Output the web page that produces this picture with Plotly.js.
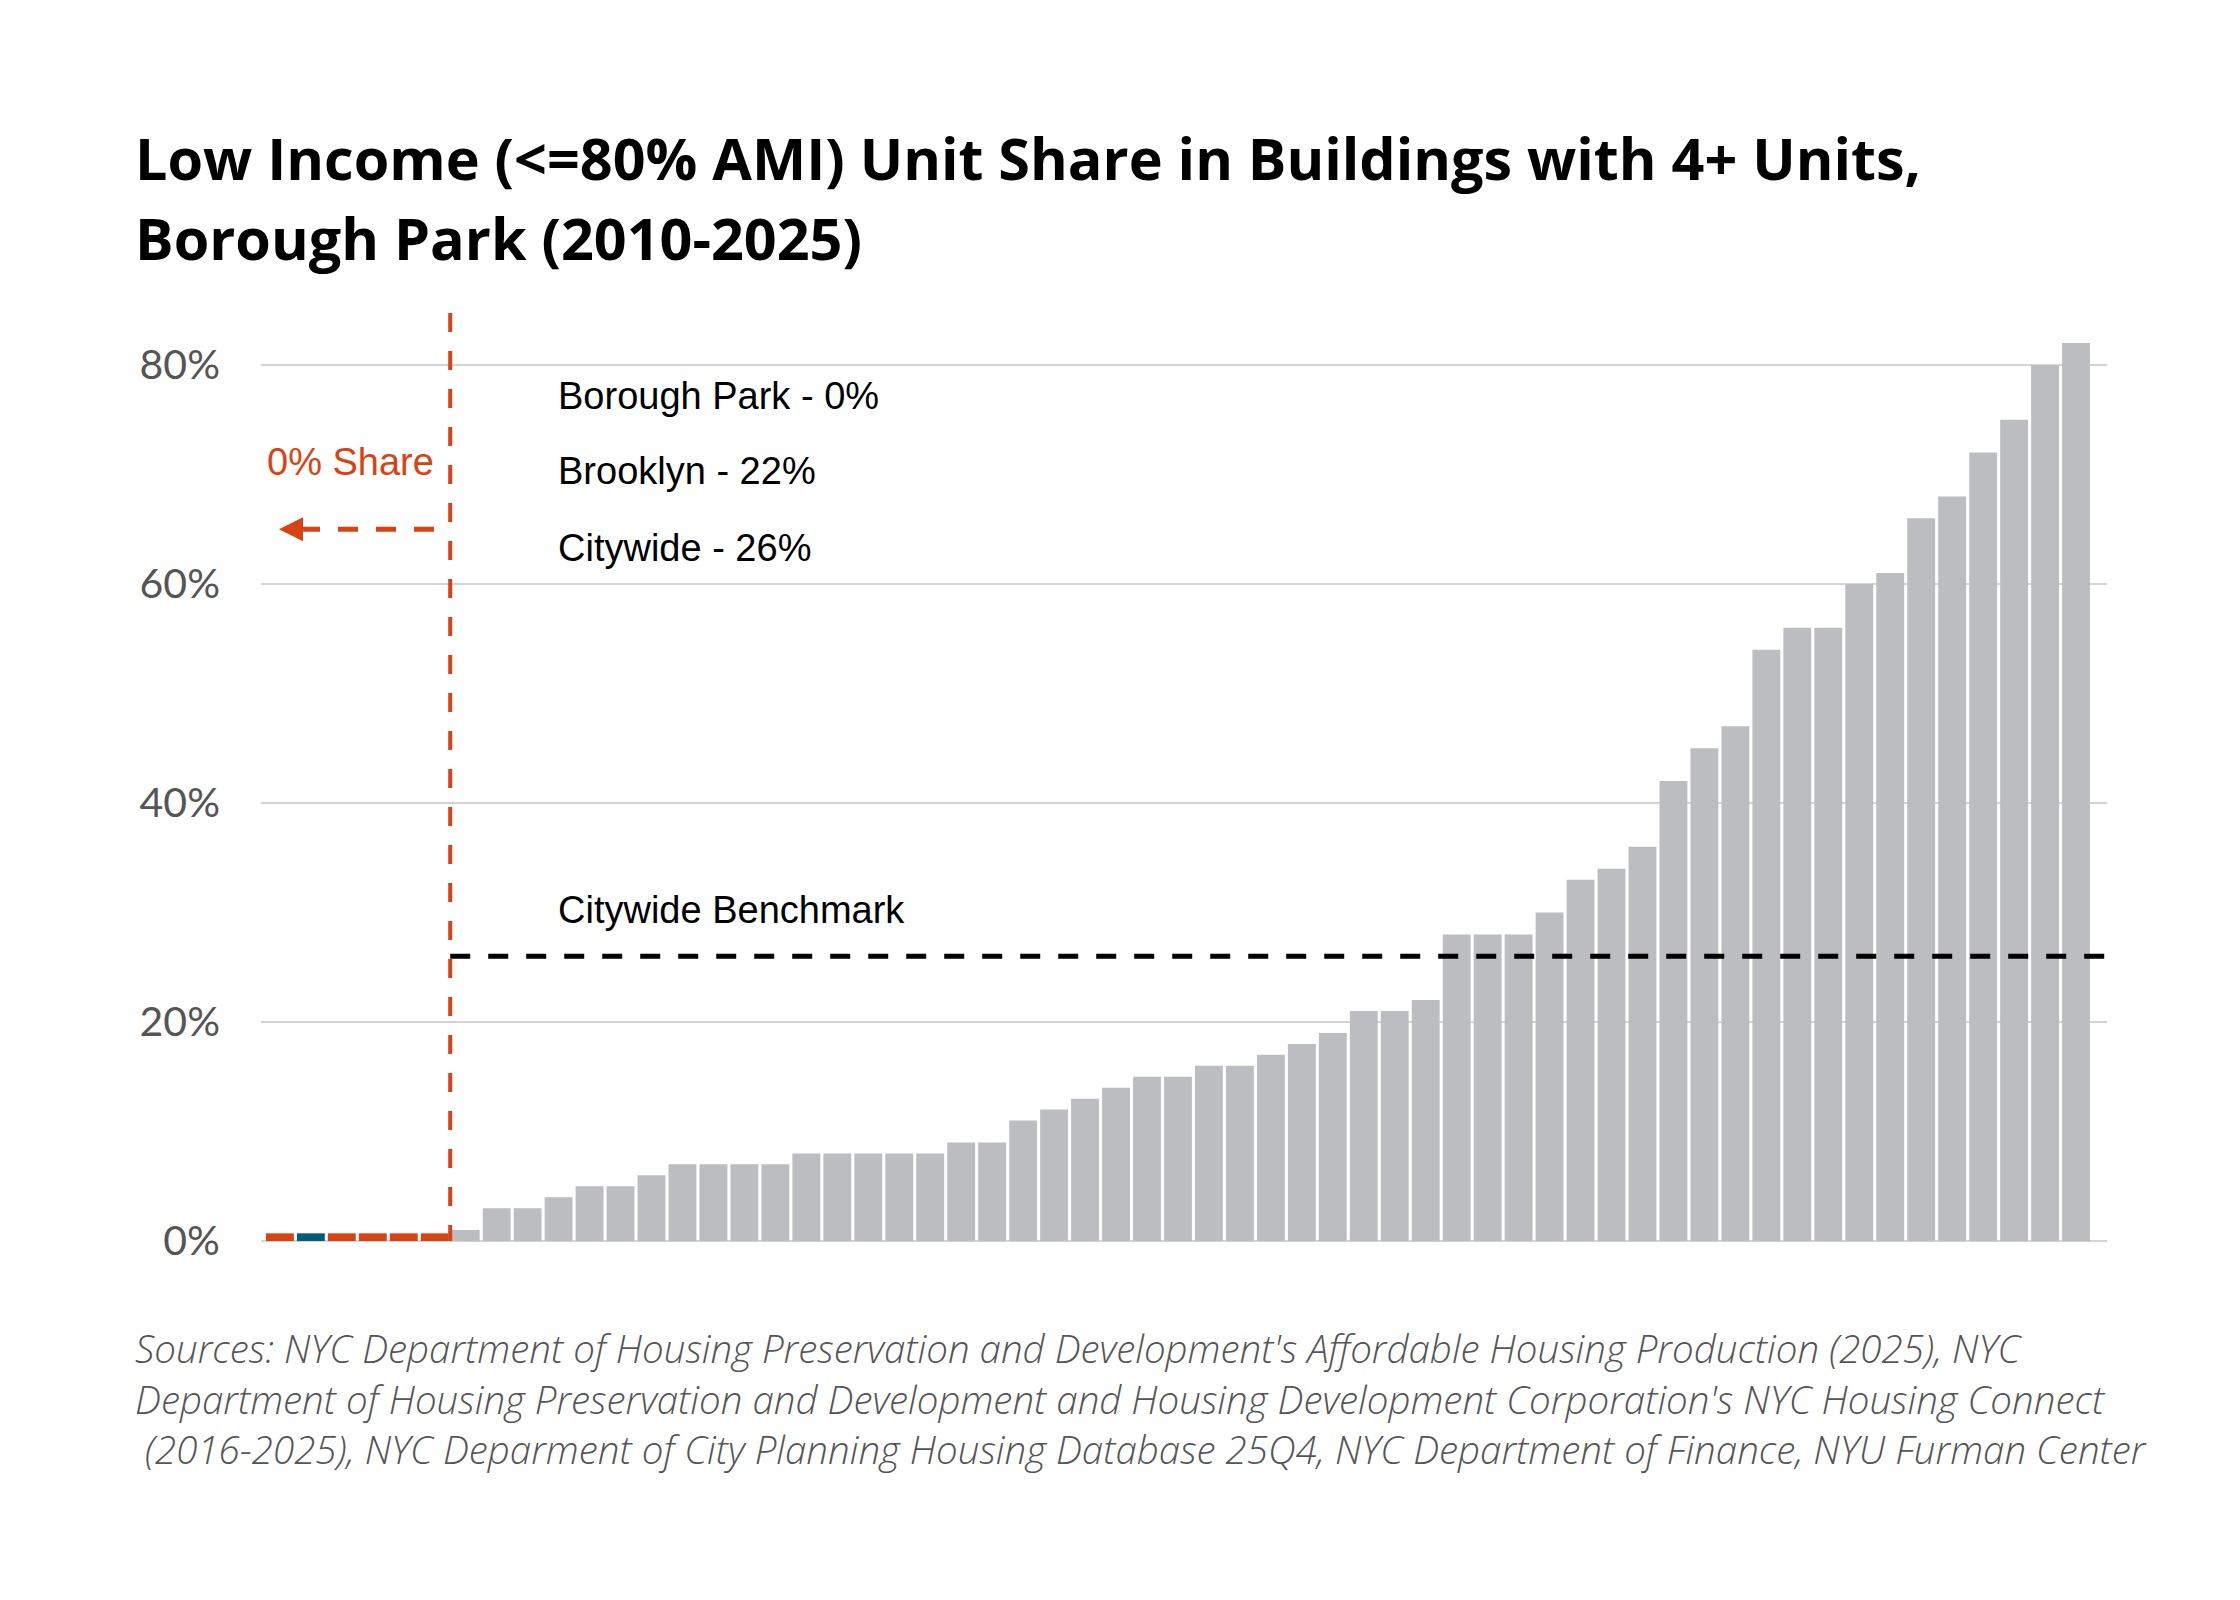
<!DOCTYPE html>
<html>
<head>
<meta charset="utf-8">
<script src="https://cdn.plot.ly/plotly-3.0.1.min.js"></script>
<style>
  html, body { margin: 0; padding: 0; background: #fff; }
  #chart { width: 2240px; height: 1600px; }
</style>
</head>
<body>
<div id="chart"></div>
<script>
// ---- Data ----
const shares = [0, 0, 0, 0, 0, 0,
  1, 3, 3, 4, 5, 5, 6, 7, 7, 7, 7, 8, 8, 8, 8, 8, 9, 9, 11, 12, 13, 14, 15, 15,
  16, 16, 17, 18, 19, 21, 21, 22, 28, 28, 28, 30, 33, 34, 36, 42, 45, 47, 54, 56,
  56, 60, 61, 66, 68, 72, 75, 80, 82];
const highlightIndex = 1;          // Borough Park
const citywideBenchmark = 26;
const arrowLevel = 65;
const yTickValues = [0, 20, 40, 60, 80];
const yTickLabels = ["0%", "20%", "40%", "60%", "80%"];
const titleLines = [
  "Low Income (<=80% AMI) Unit Share in Buildings with 4+ Units,",
  "Borough Park (2010-2025)"
];
const statLabels = ["Borough Park - 0%", "Brooklyn - 22%", "Citywide - 26%"];
const statLevels = [77.2, 70.3, 63.3];
const benchmarkLabel = "Citywide Benchmark";
const zeroShareLabel = "0% Share";
const sourceLines = [
  "Sources: NYC Department of Housing Preservation and Development's Affordable Housing Production (2025), NYC",
  "Department of Housing Preservation and Development and Housing Development Corporation's NYC Housing Connect",
  " (2016-2025), NYC Deparment of City Planning Housing Database 25Q4, NYC Department of Finance, NYU Furman Center"
];

// ---- Styling ----
const ORANGE = '#d94313';
const BLUE = '#015b7a';
const GRAY = '#bcbdc1';
const ZERO_STUB = 0.7;   // visual stub so zero-share bars stay visible

const W = 2240, H = 1600;
const plotL = 261, plotR = 2107, plotT = 313, plotB = 1241;
const py = p => (plotB - p) / (plotB - plotT);
const px = p => (p - plotL) / (plotR - plotL);

const idx = shares.map((_, i) => i);
const zeroCount = shares.filter(v => v === 0).length;
const dividerX = zeroCount - 0.5;

const colors = shares.map((v, i) => i === highlightIndex ? BLUE : (v === 0 ? ORANGE : GRAY));
const heights = shares.map(v => v === 0 ? ZERO_STUB : v);

const traces = [{
  type: 'bar',
  x: idx,
  y: heights,
  marker: { color: colors, line: { width: 0 } },
  hoverinfo: 'skip'
}];

const annotations = [];
titleLines.forEach((t, i) => {
  annotations.push({
    xref: 'paper', yref: 'paper', x: px(133), y: py(i === 0 ? 158 : 238),
    xanchor: 'left', yanchor: 'middle', showarrow: false, text: '<b>' + t + '</b>',
    font: { family: 'Open Sans', size: 57.5, color: '#000' }
  });
});
statLabels.forEach((t, i) => {
  annotations.push({
    xref: 'paper', yref: 'y', x: px(556), y: statLevels[i],
    xanchor: 'left', yanchor: 'middle', showarrow: false, text: t,
    font: { family: 'Liberation Sans', size: 38, color: '#000' }
  });
});
annotations.push({
  xref: 'paper', yref: 'y', x: px(556), y: 30.2,
  xanchor: 'left', yanchor: 'middle', showarrow: false, text: benchmarkLabel,
  font: { family: 'Liberation Sans', size: 38, color: '#000' }
});
annotations.push({
  xref: 'paper', yref: 'y', x: px(436), y: 71.1,
  xanchor: 'right', yanchor: 'middle', showarrow: false, text: zeroShareLabel,
  font: { family: 'Liberation Sans', size: 38, color: ORANGE }
});
// arrow head
annotations.push({
  xref: 'paper', yref: 'y', x: px(279), y: arrowLevel,
  ax: 24, ay: 0, showarrow: true, arrowhead: 2, arrowsize: 0.8, arrowwidth: 6,
  arrowcolor: ORANGE, text: ''
});
sourceLines.forEach((t, i) => {
  annotations.push({
    xref: 'paper', yref: 'paper', x: px(133), y: py([1348, 1399, 1449][i]),
    xanchor: 'left', yanchor: 'middle', showarrow: false, text: t,
    font: { family: 'Open Sans', size: 38.5, color: '#555', style: 'italic', weight: 300 }
  });
});

const shapes = [
  // vertical orange divider
  { type: 'line', xref: 'x', yref: 'paper', x0: dividerX, x1: dividerX, y0: 1, y1: 0,
    line: { color: ORANGE, width: 4, dash: '19px,19px' }, layer: 'above' },
  // citywide benchmark
  { type: 'line', xref: 'x', yref: 'y', x0: dividerX, x1: 59.0, y0: citywideBenchmark, y1: citywideBenchmark,
    line: { color: '#000', width: 5, dash: '20px,18px' }, layer: 'above' },
  // arrow dashes
  { type: 'line', xref: 'paper', yref: 'y', x0: px(434), x1: px(300), y0: arrowLevel, y1: arrowLevel,
    line: { color: ORANGE, width: 5, dash: '20px,18px' }, layer: 'above' }
];

const layout = {
  width: W, height: H,
  margin: { l: plotL, r: W - plotR, t: plotT, b: H - plotB, pad: 0 },
  paper_bgcolor: '#fff', plot_bgcolor: '#fff',
  showlegend: false,
  bargap: 0.1,
  xaxis: { range: [-0.61, 59.0], showgrid: false, zeroline: false, showticklabels: false, ticks: '', fixedrange: true },
  yaxis: {
    range: [0, 84.75], tickmode: 'array', tickvals: yTickValues, ticktext: yTickLabels,
    showgrid: true, gridcolor: '#d4d4d4', gridwidth: 2,
    zeroline: true, zerolinecolor: '#d4d4d4', zerolinewidth: 2,
    ticks: '', ticklabelstandoff: 40,
    tickfont: { family: 'Lato', size: 41, color: '#555' }, fixedrange: true
  },
  annotations: annotations,
  shapes: shapes
};

Plotly.newPlot('chart', traces, layout, { displayModeBar: false, staticPlot: true });
</script>
</body>
</html>
